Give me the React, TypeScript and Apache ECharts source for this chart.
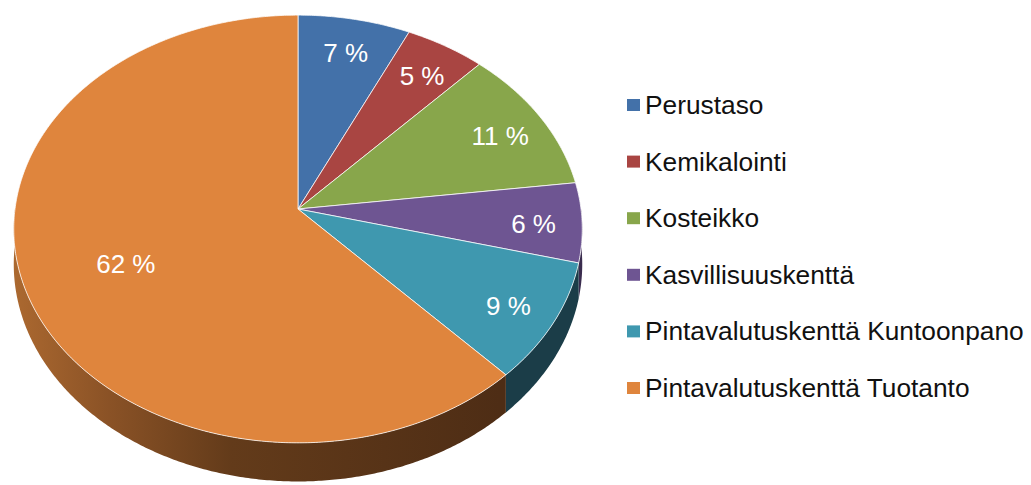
import React, { useEffect, useRef } from "react";
import * as echarts from "echarts";

const categories = [
  "Perustaso",
  "Kemikalointi",
  "Kosteikko",
  "Kasvillisuuskenttä",
  "Pintavalutuskenttä Kuntoonpano",
  "Pintavalutuskenttä Tuotanto",
];
const shares = [7, 5, 11, 6, 9, 62];

const topColors = ["#4371A9", "#A94542", "#88A64B", "#6E5592", "#3F98AF", "#DF853D"];
const sideColors = ["#22395a", "#5a2322", "#45562a", "#3a2c4e", "#1B3D48", "#6A3F1C"];

// layout of the tilted pie (pixels)
const CX = 298;
const CY = 209;
const A = 283;
const B = 212;
const P = 0.0934;
const DEPTH = 35;
const LABEL_DY = 4;
const FONT = '"Liberation Sans", Arial, sans-serif';

function project(phiDeg: number, r: number, dy: number): number[] {
  const phi = (phiDeg * Math.PI) / 180;
  const u = r * Math.sin(phi);
  const v = -r * Math.cos(phi);
  const den = 1 - P * v;
  return [CX + (A * u) / den, CY + (B * v + dy) / den];
}

function arc(a0: number, a1: number, r: number, dy: number): number[][] {
  const n = Math.max(2, Math.ceil(Math.abs(a1 - a0) * 2));
  const pts: number[][] = [];
  for (let k = 0; k <= n; k++) {
    pts.push(project(a0 + ((a1 - a0) * k) / n, r, dy));
  }
  return pts;
}

export default function App() {
  const ref = useRef<HTMLDivElement>(null);
  useEffect(() => {
    if (!ref.current) return;
    const chart = echarts.init(ref.current, undefined, { renderer: "svg" });
    const total = shares.reduce((s, v) => s + v, 0);
    const starts: number[] = [];
    let acc = 0;
    shares.forEach((v) => {
      starts.push((acc / total) * 360);
      acc += v;
    });

    const sideFill = (i: number) =>
      i === shares.length - 1
        ? new echarts.graphic.LinearGradient(
            12,
            0,
            500,
            0,
            [
              { offset: 0, color: "#AC6930" },
              { offset: 0.2, color: "#8A5226" },
              { offset: 0.45, color: "#633B1A" },
              { offset: 1, color: "#4E2D15" },
            ],
            true
          )
        : sideColors[i];

    const sideSeries: any = {
      type: "custom",
      name: "sivu",
      coordinateSystem: "none",
      silent: true,
      z: 1,
      data: shares.map((v, i) => [i, v]),
      renderItem: (params: any, api: any) => {
        const i = api.value(0);
        const val = api.value(1);
        const a0 = starts[i];
        const a1 = a0 + (val / total) * 360;
        const lo = Math.max(a0, 90);
        const hi = Math.min(a1, 270);
        if (lo >= hi) return { type: "group", children: [] };
        const points = arc(lo, hi, 1, 0).concat(arc(hi, lo, 1, DEPTH));
        return {
          type: "polygon",
          shape: { points },
          style: { fill: sideFill(i), stroke: null },
        };
      },
    };

    const topSeries = categories.map((name, idx) => ({
      type: "custom",
      name,
      coordinateSystem: "none",
      z: 2,
      itemStyle: { color: topColors[idx] },
      data: [[idx, shares[idx]]],
      renderItem: (params: any, api: any) => {
        const i = api.value(0);
        const val = api.value(1);
        const a0 = starts[i];
        const a1 = a0 + (val / total) * 360;
        const points = [project(0, 0, 0)].concat(arc(a0, a1, 1, 0));
        const mid = (a0 + a1) / 2;
        const lr = val > 50 ? 0.64 : 0.83;
        const lp = project(mid, lr, 0);
        return {
          type: "group",
          children: [
            {
              type: "polygon",
              shape: { points },
              style: {
                fill: topColors[i],
                stroke: "rgba(255,255,255,0.75)",
                lineWidth: 1,
                lineJoin: "round",
              },
            },
            {
              type: "text",
              x: lp[0],
              y: lp[1] + LABEL_DY,
              style: {
                text: `${val} %`,
                fill: "#ffffff",
                fontSize: 26,
                fontFamily: FONT,
                align: "center",
                verticalAlign: "middle",
              },
            },
          ],
        };
      },
    }));

    chart.setOption({
      animation: false,
      backgroundColor: "#ffffff",
      legend: {
        data: categories,
        orient: "vertical",
        left: 622,
        top: 87,
        itemWidth: 13,
        itemHeight: 12,
        itemGap: 30.6,
        icon: "rect",
        selectedMode: false,
        textStyle: {
          fontSize: 26.3,
          fontFamily: FONT,
          color: "#111111",
          lineHeight: 26,
        },
      },
      series: [sideSeries, ...topSeries],
    });
    return () => chart.dispose();
  }, []);
  return (
    <div
      ref={ref}
      style={{ position: "absolute", left: 0, top: 0, width: 1031, height: 485, background: "#fff" }}
    />
  );
}
